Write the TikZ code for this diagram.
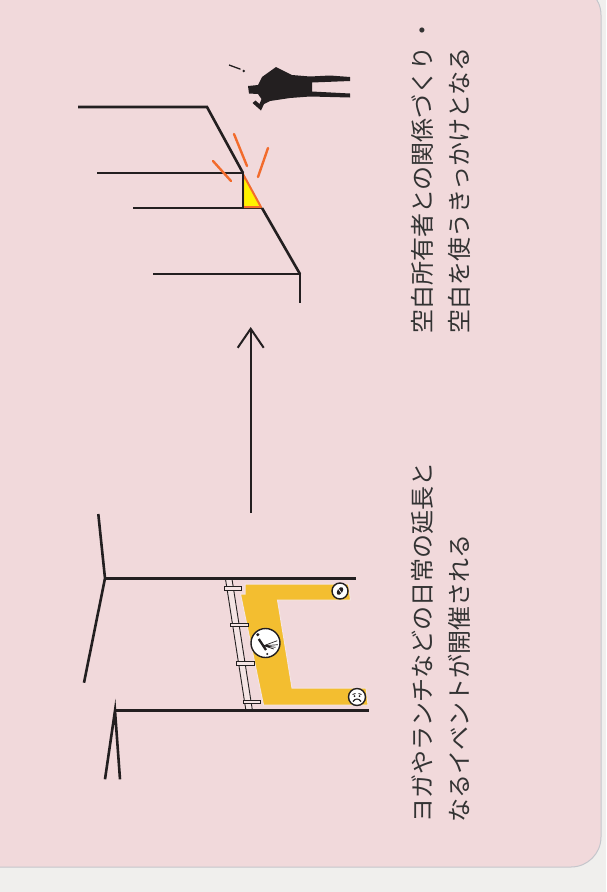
\documentclass[tikz,border=0pt]{standalone}
\usepackage{fontspec}
\newfontfamily\jpfont{Noto Sans CJK JP}
\usetikzlibrary{arrows.meta}

\definecolor{page}{HTML}{F0EFED}
\definecolor{panel}{HTML}{F1D9DB}
\definecolor{panelrim}{HTML}{C5C6CC}
\definecolor{ink}{HTML}{231F20}
\definecolor{txt}{HTML}{333333}
\definecolor{mat}{HTML}{F3BE30}
\definecolor{chip}{HTML}{FFF200}
\definecolor{flash}{HTML}{F26B2C}
\definecolor{rail}{HTML}{F4E4E4}

\tikzset{
  wall/.style={draw=ink, line width=2.6pt},
  burst/.style={draw=flash, line width=2.4pt, line cap=round},
  caption/.style={font=\jpfont\fontsize{24}{24}\selectfont, text=txt,
    rotate=90, anchor=base west, inner sep=0pt},
  badge/.style={circle, draw=ink, fill=white, line width=1.4pt,
    inner sep=0pt, minimum size=#1},
  fencepart/.style={fill=rail, draw=ink, line width=0.9pt},
}

\begin{document}
\begin{tikzpicture}[x=1pt, y=-1pt]
  % page and panel
  \fill[page] (0,0) rectangle (606,892);
  \useasboundingbox (0,0) rectangle (606,892);
  \draw[fill=panel, draw=panelrim, line width=1pt, rounded corners=30pt]
    (-40,-15) rectangle (601,867);

  % ---- upper scene: stepped edge with a broken corner ----
  \draw[wall] (78,107) -- (207,107) -- (243,173);
  \draw[wall] (97,173) -- (243,173);
  \draw[wall] (133,208) -- (262,208);
  \draw[wall] (153,274) -- (300,274) -- (300,303);
  \draw[wall] (262,208) -- (300,274);
  \filldraw[fill=chip, draw=flash, line width=2pt, line join=round]
    (243,174) -- (261,207) -- (243,207) -- cycle;
  \draw[ink, line width=2pt] (243,172) -- (243,209);

  % impact marks
  \draw[burst] (213,161) -- (231,181);
  \draw[burst] (234,134) -- (247,166);
  \draw[burst] (268,148) -- (258,177);

  % falling figure
  \fill[ink] (276,67) -- (292,75) -- (310,76.5) -- (330,75.5) -- (350,77)
    -- (350,81) -- (312,82.5) -- (312,91.5) -- (350,93.5) -- (350,97.5)
    -- (310,96.5) -- (290,98) -- (270,101) -- (264,104) -- (261,110.5)
    -- (252.5,103) -- (255.5,100.5) -- (259.5,104) -- (261.5,99) -- (258,94)
    -- (249,93.5) -- (248,86) -- (258,85) -- (262,77) -- cycle;
  \draw[ink, line width=1.3pt] (229,65) -- (240.5,69.2);
  \fill[ink] (243.8,71) circle (1.4);

  % ---- flow arrow ----
  \coordinate (flowstart) at (250.7,513);
  \coordinate (flowend) at (250.7,327);
  \draw[ink, line width=2pt,
    -{Straight Barb[length=19pt, width=26pt, line width=2pt]}]
    (flowstart) -- (flowend);

  % ---- lower scene: a gathering mat along a fence ----
  \filldraw[fill=mat, draw=rail, line width=1pt]
    (245,584) -- (348.5,584) -- (350.5,600) -- (277.5,600) -- (292,688)
    -- (366,688) -- (368,705) -- (263.5,705) -- (240.5,594) -- (245,594)
    -- cycle;

  \filldraw[fencepart] (225.5,579) -- (232,579) -- (252.5,711) -- (246,711) -- cycle;
  \filldraw[fencepart] (224,586.7) rectangle (241.7,590.3);
  \filldraw[fencepart] (230.7,623.3) rectangle (248.3,626.9);
  \filldraw[fencepart] (236.7,661.7) rectangle (254,665.3);
  \filldraw[fencepart] (243.3,700) rectangle (260.7,703.6);

  \draw[wall] (98.3,514) -- (105,578.3) -- (84,682.7);
  \draw[wall] (105,578.3) -- (356,578.3);
  \draw[wall] (105,779.3) -- (115,710.7) -- (120,779.3);
  \draw[wall] (115,710.7) -- (369.3,710.7);

  % icons on the mat
  \node[badge=16pt] (leaficon) at (340,591) {};
  \begin{scope}[shift={(leaficon.center)}]
    \fill[ink, rotate=55] (0,0) ellipse (4.3 and 2.6);
    \draw[white, line width=0.7pt] (-1.8,-2.6) -- (1.8,2.6);
  \end{scope}

  \node[badge=29pt] (yogaicon) at (265.5,643) {};
  \begin{scope}[shift={(yogaicon.center)}]
    \fill[ink] (-7.7,-8.3) circle (1.7);
    \draw[ink, line width=2.3pt] (-6.7,-4) -- (0.5,7);
    \fill[ink] (1.7,11) circle (1.1);
    \draw[ink, line width=0.7pt] (-1.7,2.7) -- (11.7,-2.3)
      (-1.7,2.7) -- (12.3,1.7) (-1.7,2.7) -- (10,4.3) (-1.7,2.7) -- (8.3,6);
  \end{scope}

  \node[badge=17pt] (faceicon) at (357,697) {};
  \begin{scope}[shift={(faceicon.center)}]
    \draw[ink, line width=0.9pt] (-4.5,-2.5) -- (-1.5,-3.5) (1.5,-3.5) -- (4.5,-2.5);
    \fill[ink] (-2.5,-1) circle (1) (2.5,-1) circle (1);
    \draw[ink, line width=1.1pt] (-4,4.5) .. controls (-2,1.2) and (2,1.2) .. (4,4.5);
  \end{scope}

  % ---- captions ----
  \node[caption] (capA1) at (431,822.5) {ヨガやランチなどの日常の延長と};
  \node[caption] (capA2) at (468,822.5) {なるイベントが開催される};
  \node[caption] (capB1) at (431,334) {空白所有者との関係づくり\kern4pt・};
  \node[caption] (capB2) at (468,334) {空白を使うきっかけとなる};
\end{tikzpicture}
\end{document}
